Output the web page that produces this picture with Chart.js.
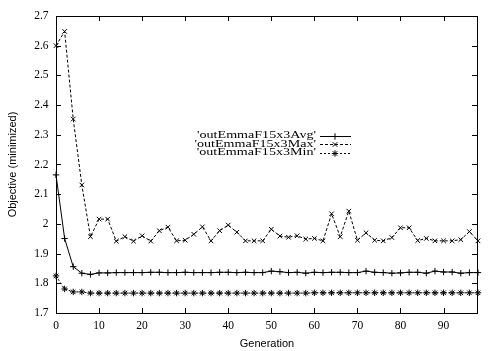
<!DOCTYPE html>
<html>
<head>
<meta charset="utf-8">
<script src="https://cdn.jsdelivr.net/npm/chart.js@4.4.1/dist/chart.umd.min.js"></script>
<style>
  html,body{margin:0;padding:0;background:#fff;}
  #wrap{width:501px;height:351px;position:relative;}
</style>
</head>
<body>
<div id="wrap"><canvas id="c"></canvas></div>
<script>
// generations sampled every 2 steps
const gens = [0,2,4,6,8,10,12,14,16,18,20,22,24,26,28,30,32,34,36,38,40,42,44,46,48,
  50,52,54,56,58,60,62,64,66,68,70,72,74,76,78,80,82,84,86,88,90,92,94,96,98];
const avgVals = [2.165,1.951,1.856,1.834,1.830,1.835,1.835,1.836,1.836,1.836,
  1.836,1.837,1.837,1.836,1.836,1.837,1.836,1.836,1.836,1.837,
  1.837,1.836,1.837,1.836,1.836,1.841,1.839,1.836,1.837,1.834,
  1.837,1.836,1.837,1.837,1.836,1.836,1.841,1.837,1.836,1.834,
  1.835,1.837,1.837,1.834,1.841,1.838,1.838,1.834,1.836,1.836];
const maxVals = [2.600,2.648,2.353,2.131,1.957,2.016,2.016,1.942,1.957,1.942,
  1.960,1.942,1.977,1.989,1.943,1.945,1.965,1.990,1.943,1.977,
  1.996,1.972,1.943,1.943,1.943,1.982,1.959,1.955,1.960,1.949,
  1.951,1.943,2.034,1.957,2.043,1.945,1.970,1.945,1.943,1.954,
  1.987,1.987,1.944,1.951,1.943,1.943,1.943,1.947,1.974,1.943];
const minVals = [1.825,1.781,1.771,1.771,1.767,1.767,1.767,1.767,1.767,1.767,
  1.767,1.767,1.767,1.767,1.767,1.767,1.767,1.767,1.767,1.767,
  1.767,1.767,1.767,1.767,1.767,1.767,1.767,1.767,1.767,1.767,
  1.768,1.768,1.768,1.768,1.768,1.768,1.768,1.768,1.768,1.768,
  1.768,1.768,1.768,1.768,1.768,1.768,1.768,1.768,1.768,1.768];
const seriesNames = ["'outEmmaF15x3Avg'", "'outEmmaF15x3Max'", "'outEmmaF15x3Min'"];
const xTitle = 'Generation';
const yTitle = 'Objective (minimized)';

const styles = [
  {pointStyle:'cross', dash:[]},
  {pointStyle:'crossRot', dash:[3,2]},
  {pointStyle:'star', dash:[2,2]}
];
const pts = (vals) => gens.map((g,i) => ({x:g, y:vals[i]}));
const mkSet = (label, vals, st) => ({
  label, data: pts(vals), borderColor:'#000', borderWidth:1, borderDash:st.dash,
  pointStyle:st.pointStyle, pointRadius:3.2, pointBorderWidth:1, pointBorderColor:'#000',
  pointBackgroundColor:'#000', tension:0, fill:false, clip:false
});

// gnuplot-like frame with inward ticks on all four sides
const frame = {
  id:'frame',
  afterDraw(chart){
    const {ctx, chartArea:a, scales:{x, y}} = chart;
    ctx.save();
    ctx.strokeStyle = '#000'; ctx.lineWidth = 1;
    ctx.strokeRect(a.left + .5, a.top + .5, a.right - a.left - 1, a.bottom - a.top);
    ctx.beginPath();
    x.ticks.forEach(t => {
      const px = Math.round(x.getPixelForValue(t.value)) + .5;
      ctx.moveTo(px, a.bottom); ctx.lineTo(px, a.bottom - 5);
      ctx.moveTo(px, a.top); ctx.lineTo(px, a.top + 5);
    });
    y.ticks.forEach(t => {
      const py = Math.round(y.getPixelForValue(t.value)) + .5;
      ctx.moveTo(a.left, py); ctx.lineTo(a.left + 5, py);
      ctx.moveTo(a.right - 1, py); ctx.lineTo(a.right - 6, py);
    });
    ctx.stroke();
    ctx.restore();
  }
};

// key box: right aligned names, line sample with a marker
const key = {
  id:'key',
  afterDraw(chart){
    const ctx = chart.ctx;
    const rows = [135.5, 144, 152.5];
    ctx.save();
    ctx.font = '9.5px "Liberation Serif"';
    ctx.fillStyle = '#000'; ctx.strokeStyle = '#000'; ctx.lineWidth = 1;
    const sx = 119 / ctx.measureText(seriesNames[0]).width;
    seriesNames.forEach((name, i) => {
      const y = rows[i];
      ctx.save();
      ctx.translate(316, y);
      ctx.scale(sx, 1);
      ctx.textAlign = 'right'; ctx.textBaseline = 'middle';
      ctx.fillText(name, 0, 0);
      ctx.restore();
      ctx.save();
      ctx.setLineDash(styles[i].dash);
      ctx.beginPath(); ctx.moveTo(320, Math.round(y) + .5); ctx.lineTo(351, Math.round(y) + .5); ctx.stroke();
      ctx.restore();
      Chart.helpers.drawPoint(ctx, {pointStyle:styles[i].pointStyle, radius:3.2, borderWidth:1, rotation:0}, 335, Math.round(y) + .5);
    });
    ctx.restore();
  }
};

new Chart(document.getElementById('c'), {
  type:'line',
  data:{datasets:[
    mkSet(seriesNames[0], avgVals, styles[0]),
    mkSet(seriesNames[1], maxVals, styles[1]),
    mkSet(seriesNames[2], minVals, styles[2])
  ]},
  options:{
    responsive:true, maintainAspectRatio:false, animation:false,
    layout:{padding:{top:16, right:23, left:0, bottom:0}},
    plugins:{legend:{display:false}, tooltip:{enabled:false}},
    scales:{
      x:{
        type:'linear', min:0, max:98,
        grid:{display:false, drawTicks:false}, border:{display:false},
        ticks:{stepSize:10, padding:6, color:'#000', font:{family:'Liberation Serif', size:11.5}, maxRotation:0},
        afterBuildTicks:(s) => { s.ticks = s.ticks.filter(t => t.value % 10 === 0); },
        afterFit:(s) => { s.height = 38; },
        title:{display:true, text:xTitle, color:'#000', font:{family:'Liberation Sans', size:11}, padding:{top:0, bottom:0}}
      },
      y:{
        type:'linear', min:1.7, max:2.7,
        grid:{display:false, drawTicks:false}, border:{display:false},
        ticks:{stepSize:0.1, padding:7.5, color:'#000', font:{family:'Liberation Serif', size:11.5},
          callback:(v) => String(Number(v.toFixed(1)))},
        afterFit:(s) => { s.width = 56; },
        title:{display:true, text:yTitle, color:'#000', font:{family:'Liberation Sans', size:11}, padding:{top:6, bottom:0}}
      }
    }
  },
  plugins:[frame, key]
});
</script>
</body>
</html>
